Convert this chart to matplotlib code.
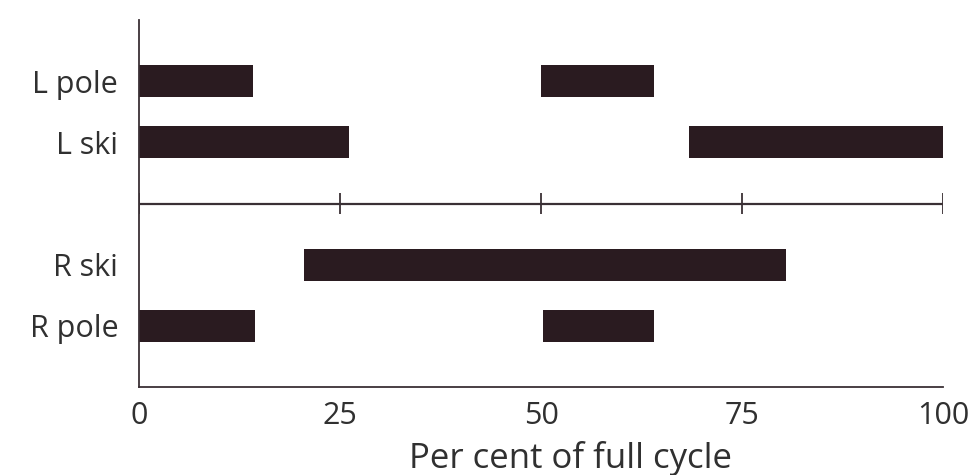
import matplotlib.pyplot as plt

# phases of each limb as (start, end) in per cent of cycle
rows = ['L pole', 'L ski', 'R ski', 'R pole']
row_pos = [0, 1, 3, 4]
phases = [
    [(0, 14.2), (50, 64)],
    [(0, 26.1), (68.4, 100)],
    [(20.5, 80.5)],
    [(0, 14.4), (50.2, 64)],
]
ticks = [0, 25, 50, 75, 100]


def main():
    plt.rcParams['font.family'] = ['Open Sans', 'DejaVu Sans']
    fig = plt.figure(figsize=(9.77, 4.75), dpi=100)
    ax = fig.add_axes([139 / 977, 1 - 387 / 475, (943 - 139) / 977, (387 - 20) / 475])

    bar_col = '#2a1b20'
    for pos, segs in zip(row_pos, phases):
        ax.broken_barh([(a, b - a) for a, b in segs], (pos - 0.26, 0.52),
                       facecolors=bar_col, edgecolor='none')

    # middle cycle axis
    ax.plot([ticks[0], ticks[-1]], [2, 2], color='#3a3035', lw=1.6)
    ax.vlines(ticks, 1.83, 2.17, color='#3a3035', lw=1.3)

    ax.set_xlim(0, 100)
    ax.set_ylim(5, -1)
    ax.set_yticks(row_pos)
    ax.set_yticklabels(rows)
    ax.set_xticks(ticks)
    ax.tick_params(length=0, labelsize=22, colors='#303030')
    ax.tick_params(axis='x', pad=10)
    ax.tick_params(axis='y', pad=15)
    ax.set_xlabel('Per cent of full cycle', fontsize=25, color='#303030', labelpad=7, x=0.537)

    for s in ['top', 'right']:
        ax.spines[s].set_visible(False)
    for s in ['left', 'bottom']:
        ax.spines[s].set_color('#3a3035')
        ax.spines[s].set_linewidth(1.3)

    fig.savefig('out.png', dpi=100)


if __name__ == "__main__":
    main()
